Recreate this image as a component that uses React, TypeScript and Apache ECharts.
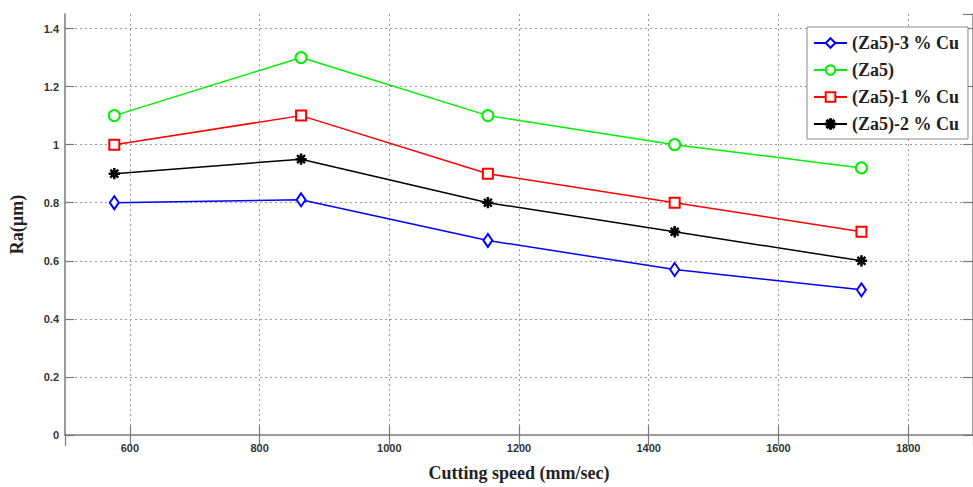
import React, { useEffect, useRef } from "react";
import * as echarts from "echarts";

// Cutting speeds (mm/sec) and measured surface roughness Ra (µm)
const cuttingSpeed = [576, 864, 1152, 1440, 1728];
const seriesNames = ["(Za5)-3 % Cu", "(Za5)", "(Za5)-1 % Cu", "(Za5)-2 % Cu"];
const raCu3 = [0.8, 0.81, 0.67, 0.57, 0.5];
const raZa5 = [1.1, 1.3, 1.1, 1.0, 0.92];
const raCu1 = [1.0, 1.1, 0.9, 0.8, 0.7];
const raCu2 = [0.9, 0.95, 0.8, 0.7, 0.6];

// asterisk marker built from four thin bars
const ASTERISK =
  "path://M4.4,0 H5.6 V10 H4.4 Z M0,4.4 H10 V5.6 H0 Z M1.1,1.9 L1.9,1.1 L8.9,8.1 L8.1,8.9 Z M8.1,1.1 L8.9,1.9 L1.9,8.9 L1.1,8.1 Z";

const AXIS_GREY = "#7a7a7a";
const GRID_GREY = "#9a9a9a";
const SERIF = "'Liberation Serif', 'Times New Roman', serif";
const SANS = "'Liberation Sans', Arial, sans-serif";

function pairs(values: number[]) {
  return cuttingSpeed.map((x, i) => [x, values[i]]);
}

export default function App() {
  const ref = useRef<HTMLDivElement>(null);

  useEffect(() => {
    if (!ref.current) return;
    const chart = echarts.init(ref.current, undefined, { renderer: "svg" });

    const tickLabel = {
      color: "#333",
      fontFamily: SANS,
      fontWeight: "bold" as const,
      fontSize: 11,
    };

    const lineSeries = (
      name: string,
      values: number[],
      color: string,
      symbol: string,
      symbolSize: number | number[]
    ) => ({
      name,
      type: "line",
      data: pairs(values),
      symbol,
      symbolSize,
      showAllSymbol: true,
      lineStyle: { color, width: 1.5 },
      itemStyle: { color, borderColor: color, borderWidth: 1.3 },
      emphasis: { disabled: true },
    });

    chart.setOption({
      animation: false,
      backgroundColor: "#fff",
      grid: { left: 62, right: -6, top: 14, bottom: 47, containLabel: false },
      legend: {
        orient: "vertical",
        left: 807,
        top: 27,
        padding: [7, 9, 6, 6],
        itemGap: 9,
        itemWidth: 33,
        itemHeight: 12,
        backgroundColor: "#fff",
        borderColor: "#8a8a8a",
        borderWidth: 1,
        textStyle: {
          fontFamily: SERIF,
          fontWeight: "bold",
          fontSize: 18,
          color: "#222",
        },
        data: seriesNames,
      },
      xAxis: [
        {
          type: "value",
          position: "bottom",
          min: 500,
          max: 1900,
          minInterval: 200,
          maxInterval: 200,
          name: "Cutting speed (mm/sec)",
          nameLocation: "middle",
          nameGap: 29,
          nameTextStyle: {
            fontFamily: SERIF,
            fontWeight: "bold",
            fontSize: 18,
            color: "#222",
          },
          axisLine: { show: true, lineStyle: { color: AXIS_GREY, width: 1.5 } },
          axisTick: { show: true, inside: true, length: 9, lineStyle: { color: AXIS_GREY, width: 1.2 } },
          axisLabel: {
            ...tickLabel,
            margin: 7,
            showMinLabel: false,
            showMaxLabel: false,
            formatter: (v: number) => String(v),
          },
          splitLine: {
            show: true,
            showMinLine: false,
            showMaxLine: false,
            lineStyle: { color: GRID_GREY, type: [2, 3], width: 1 },
          },
        },
        {
          type: "value",
          position: "top",
          min: 500,
          max: 1900,
          minInterval: 200,
          maxInterval: 200,
          axisLine: { show: false },
          axisTick: { show: true, inside: true, length: 11, lineStyle: { color: AXIS_GREY, width: 1.2 } },
          axisLabel: { show: false },
          splitLine: { show: false },
        },
      ],
      yAxis: [
        {
          type: "value",
          position: "left",
          min: 0,
          max: 1.45,
          interval: 0.2,
          name: "Ra(µm)",
          nameLocation: "middle",
          nameGap: 39,
          nameTextStyle: {
            fontFamily: SERIF,
            fontWeight: "bold",
            fontSize: 18,
            color: "#222",
          },
          axisLine: { show: true, lineStyle: { color: AXIS_GREY, width: 1.5 } },
          axisTick: { show: true, inside: true, length: 9, lineStyle: { color: AXIS_GREY, width: 1.2 } },
          axisLabel: { ...tickLabel, margin: 6, showMaxLabel: false },
          splitLine: {
            show: true,
            showMinLine: false,
            showMaxLine: false,
            lineStyle: { color: GRID_GREY, type: [2, 3], width: 1 },
          },
        },
        {
          type: "value",
          position: "right",
          min: 0,
          max: 1.45,
          interval: 0.2,
          axisLine: { show: true, lineStyle: { color: AXIS_GREY, width: 1.5 } },
          axisTick: { show: true, inside: true, length: 10, lineStyle: { color: AXIS_GREY, width: 1.2 } },
          axisLabel: { show: false },
          splitLine: { show: false },
        },
      ],
      series: [
        lineSeries(seriesNames[0], raCu3, "#0000ff", "emptyDiamond", [9, 13]),
        lineSeries(seriesNames[1], raZa5, "#00f000", "emptyCircle", 11),
        lineSeries(seriesNames[2], raCu1, "#ff0000", "emptyRect", 10),
        lineSeries(seriesNames[3], raCu2, "#000000", ASTERISK, 10),
      ],
    });

    return () => chart.dispose();
  }, []);

  return (
    <div
      ref={ref}
      style={{ position: "fixed", left: 0, top: 0, width: 973, height: 487, background: "#fff" }}
    />
  );
}
